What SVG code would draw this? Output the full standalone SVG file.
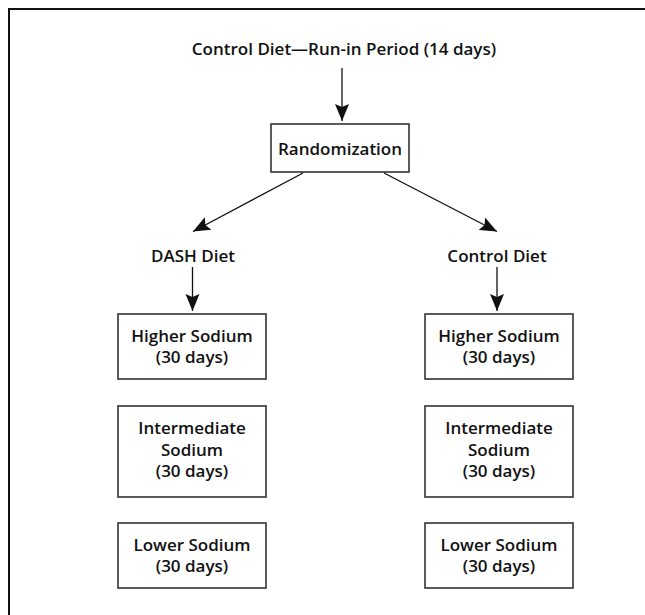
<svg xmlns="http://www.w3.org/2000/svg" width="645" height="615" viewBox="0 0 645 615">
<style>
text{font-family:"Open Sans","Noto Sans","DejaVu Sans",sans-serif;font-weight:600;font-size:17px;fill:#111;text-anchor:middle}
.box{fill:#fff;stroke:#333;stroke-width:1.6}
.con{stroke:#111;stroke-width:1.3;fill:none}
.frame{stroke:#111;stroke-width:2;fill:none}
</style>
<defs>
<marker id="ah" markerUnits="userSpaceOnUse" viewBox="-18 -8 19 16" refX="0" refY="0" markerWidth="19" markerHeight="16" orient="auto">
<path d="M-17,-7 L0,0 L-17,7 L-14,0 Z" fill="#111"/>
</marker>
</defs>
<rect width="645" height="615" fill="#fff"/>
<path class="frame" d="M9,615 V9 H645"/>
<g id="title"><text x="344" y="55">Control Diet—Run-in Period (14 days)</text></g>
<g id="randomization"><rect class="box" x="271" y="124" width="138" height="48"/><text x="340" y="155">Randomization</text></g>
<g id="dash"><text x="193" y="262">DASH Diet</text></g>
<g id="control"><text x="497" y="262">Control Diet</text></g>
<g id="dash-higher"><rect class="box" x="118" y="314" width="148" height="65"/><text x="192" y="342">Higher Sodium</text><text x="192" y="363">(30 days)</text></g>
<g id="dash-intermediate"><rect class="box" x="118" y="406" width="148" height="91"/><text x="192" y="434">Intermediate</text><text x="192" y="456">Sodium</text><text x="192" y="477">(30 days)</text></g>
<g id="dash-lower"><rect class="box" x="118" y="523" width="148" height="65"/><text x="192" y="551">Lower Sodium</text><text x="192" y="572">(30 days)</text></g>
<g id="control-higher"><rect class="box" x="425" y="314" width="148" height="65"/><text x="499" y="342">Higher Sodium</text><text x="499" y="363">(30 days)</text></g>
<g id="control-intermediate"><rect class="box" x="425" y="406" width="148" height="91"/><text x="499" y="434">Intermediate</text><text x="499" y="456">Sodium</text><text x="499" y="477">(30 days)</text></g>
<g id="control-lower"><rect class="box" x="425" y="523" width="148" height="65"/><text x="499" y="551">Lower Sodium</text><text x="499" y="572">(30 days)</text></g>
<g id="connectors">
<line class="con" x1="342" y1="68" x2="342" y2="121" marker-end="url(#ah)"/>
<line class="con" x1="303" y1="173" x2="193" y2="231.5" marker-end="url(#ah)"/>
<line class="con" x1="384" y1="173" x2="497" y2="231.5" marker-end="url(#ah)"/>
<line class="con" x1="192.5" y1="267" x2="192.5" y2="311" marker-end="url(#ah)"/>
<line class="con" x1="497" y1="267" x2="497" y2="311" marker-end="url(#ah)"/>
</g>
</svg>
